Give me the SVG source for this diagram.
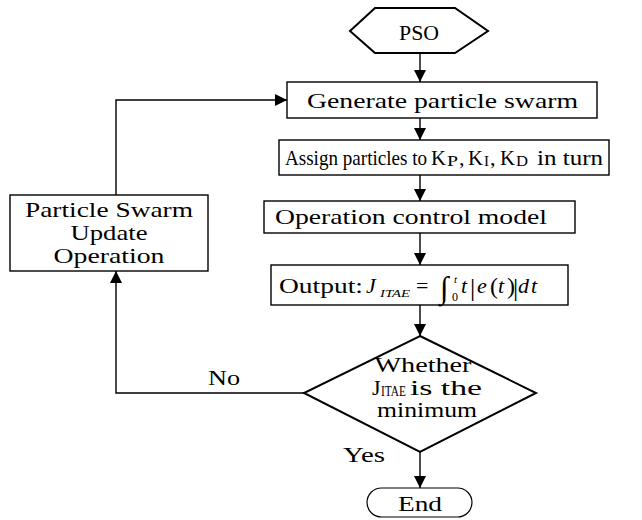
<svg xmlns="http://www.w3.org/2000/svg" width="642" height="520" viewBox="0 0 642 520">
<style>
text{font-family:"Liberation Serif","Times New Roman",serif;fill:#000;}
.t{font-size:22px;}
.s{font-size:15px;}
.box{fill:#fff;stroke:#000;stroke-width:1.4;}
.thick{fill:#fff;stroke:#000;stroke-width:2;}
.ln{fill:none;stroke:#000;stroke-width:1.4;}
.it{font-style:italic;}
</style>
<defs>
<marker id="ah" markerUnits="userSpaceOnUse" markerWidth="12" markerHeight="12" viewBox="0 0 12 12" refX="12" refY="6" orient="auto">
<path d="M0,0 L12,6 L0,12 z" fill="#000"/>
</marker>
</defs>
<rect width="642" height="520" fill="#fff"/>
<g id="connectors">
<line class="ln" x1="420" y1="53" x2="420" y2="82" marker-end="url(#ah)"/>
<line class="ln" x1="420" y1="118" x2="420" y2="140" marker-end="url(#ah)"/>
<line class="ln" x1="420" y1="175" x2="420" y2="201" marker-end="url(#ah)"/>
<line class="ln" x1="420" y1="233" x2="420" y2="265" marker-end="url(#ah)"/>
<line class="ln" x1="420" y1="305" x2="420" y2="336" marker-end="url(#ah)"/>
<line class="ln" x1="420" y1="452" x2="420" y2="488" marker-end="url(#ah)"/>
<polyline class="ln" points="304,393 116,393 116,271" marker-end="url(#ah)"/>
<polyline class="ln" points="116,195 116,100 287,100" marker-end="url(#ah)"/>
<text class="t" x="208" y="385" textLength="32" lengthAdjust="spacingAndGlyphs">No</text>
<text class="t" x="343" y="462" textLength="42" lengthAdjust="spacingAndGlyphs">Yes</text>
</g>
<g id="pso">
<polygon class="thick" points="350,31 375,8 455,8 488,31 455,53 375,53"/>
<text class="t" x="399" y="40" font-size="20" textLength="40" lengthAdjust="spacingAndGlyphs">PSO</text>
</g>
<g id="generate">
<rect class="box" x="287" y="82" width="310" height="36"/>
<text class="t" x="307" y="108" textLength="271" lengthAdjust="spacingAndGlyphs">Generate particle swarm</text>
</g>
<g id="assign">
<rect class="box" x="279" y="140" width="330" height="35"/>
<text class="t" x="285" y="165" textLength="142" lengthAdjust="spacingAndGlyphs">Assign particles to</text>
<text class="t" x="431" y="165" textLength="15" lengthAdjust="spacingAndGlyphs">K</text>
<text class="s" x="447" y="166" textLength="11" lengthAdjust="spacingAndGlyphs">P</text>
<text class="t" x="459" y="165">,</text>
<text class="t" x="468" y="165" textLength="15" lengthAdjust="spacingAndGlyphs">K</text>
<text class="s" x="484" y="166">I</text>
<text class="t" x="490" y="165">,</text>
<text class="t" x="500" y="165" textLength="15" lengthAdjust="spacingAndGlyphs">K</text>
<text class="s" x="516" y="166" textLength="12" lengthAdjust="spacingAndGlyphs">D</text>
<text class="t" x="537" y="165" textLength="66" lengthAdjust="spacingAndGlyphs">in turn</text>
</g>
<g id="operation">
<rect class="box" x="264" y="201" width="311" height="32"/>
<text class="t" x="275" y="224" textLength="272" lengthAdjust="spacingAndGlyphs">Operation control model</text>
</g>
<g id="output">
<rect class="box" x="271" y="265" width="297" height="40"/>
<text class="t" x="279" y="293" textLength="84" lengthAdjust="spacingAndGlyphs">Output:</text>
<text class="t it" x="366" y="293">J</text>
<text class="it" x="380" y="297" font-size="11" textLength="30" lengthAdjust="spacingAndGlyphs">ITAE</text>
<text class="t" x="416" y="293">=</text>
<text x="440" y="298" font-size="31">∫</text>
<text x="452" y="301" font-size="12">0</text>
<text class="it" x="454" y="283" font-size="11">t</text>
<text class="t it" x="461" y="293">t</text>
<text x="470" y="296" font-size="26">|</text>
<text class="t it" x="477" y="293">e</text>
<text x="490" y="294" font-size="24">(</text>
<text class="t it" x="498" y="293">t</text>
<text x="507" y="294" font-size="24">)</text>
<text x="513" y="296" font-size="26">|</text>
<text class="t it" x="518" y="293">d</text>
<text class="t it" x="531" y="293">t</text>
</g>
<g id="decision">
<polygon class="thick" points="420,336 536,393 420,452 304,393"/>
<text class="t" x="423" y="372" text-anchor="middle" textLength="97" lengthAdjust="spacingAndGlyphs">Whether</text>
<text class="t" x="372" y="395">J</text>
<text class="s" x="381" y="396" textLength="25" lengthAdjust="spacingAndGlyphs">ITAE</text>
<text class="t" x="410" y="395" textLength="72" lengthAdjust="spacingAndGlyphs">is the</text>
<text class="t" x="427" y="417" text-anchor="middle" textLength="100" lengthAdjust="spacingAndGlyphs">minimum</text>
</g>
<g id="update">
<rect class="box" x="10" y="195" width="198" height="76"/>
<text class="t" x="109" y="217" text-anchor="middle" textLength="168" lengthAdjust="spacingAndGlyphs">Particle Swarm</text>
<text class="t" x="109" y="240" text-anchor="middle" textLength="77" lengthAdjust="spacingAndGlyphs">Update</text>
<text class="t" x="109" y="263" text-anchor="middle" textLength="111" lengthAdjust="spacingAndGlyphs">Operation</text>
</g>
<g id="end">
<rect x="367" y="488" width="105" height="29" rx="14.5" fill="#fff" stroke="#000" stroke-width="1.2"/>
<text class="t" x="420" y="511" text-anchor="middle" textLength="44" lengthAdjust="spacingAndGlyphs">End</text>
</g>
</svg>
